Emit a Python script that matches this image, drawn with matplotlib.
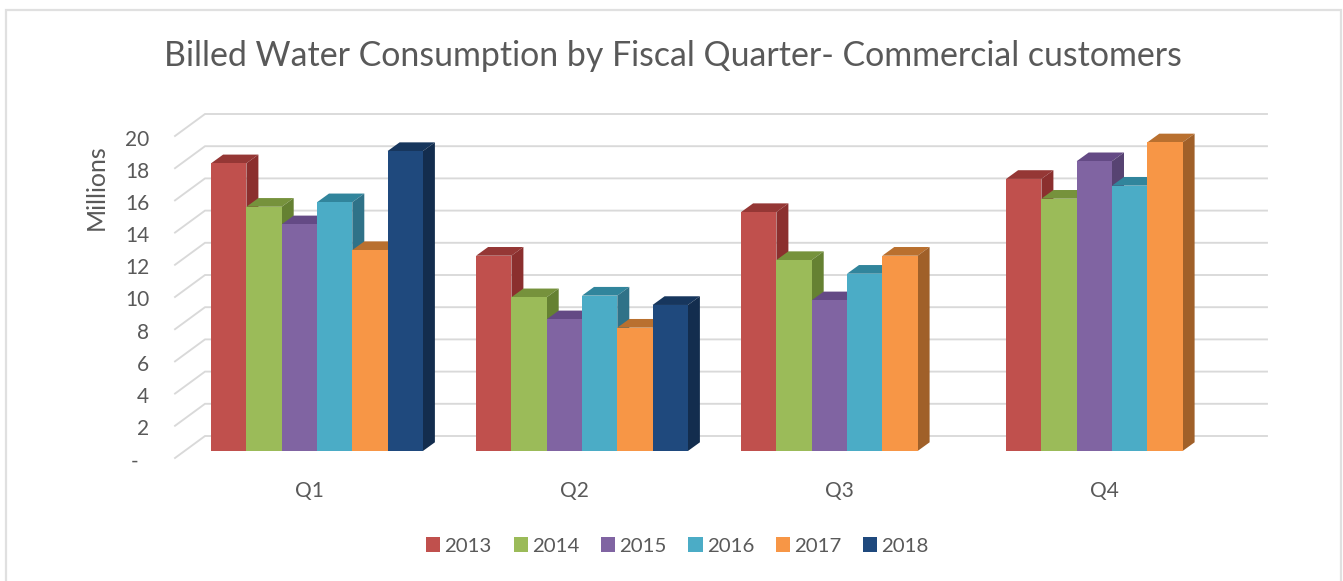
import matplotlib
matplotlib.use('Agg')
import numpy as np
import matplotlib.pyplot as plt
from matplotlib.lines import Line2D
from matplotlib.patches import Patch, Polygon

quarters = ['Q1', 'Q2', 'Q3', 'Q4']
years = ['2013', '2014', '2015', '2016', '2017', '2018']

# values in millions, 2018 stops after Q2
v2013 = [17.87, 12.13, 14.84, 16.90]
v2014 = [15.17, 9.55, 11.86, 15.67]
v2015 = [14.08, 8.18, 9.36, 18.00]
v2016 = [15.45, 9.65, 11.01, 16.48]
v2017 = [12.48, 7.66, 12.13, 19.17]
v2018 = [18.63, 9.07]

y_ticks = [0, 2, 4, 6, 8, 10, 12, 14, 16, 18, 20]
y_labels = ['-  ', '2', '4', '6', '8', '10', '12', '14', '16', '18', '20']

front = ['#C0504D', '#9BBB59', '#8064A2', '#4BACC6', '#F79646', '#1F497D']
top = ['#953735', '#76923C', '#644A85', '#31859C', '#B9702F', '#17365D']
side = ['#8B2F2E', '#658132', '#574372', '#2F7288', '#A06029', '#132D4E']

W, H = 1343, 581
GREY = '#595959'
GRID = '#D9D9D9'

# pixel geometry of the fake 3d box
PX_BAND = 265.0
PX_Y = 16.1
X0_PX = 317.0
Y0_PX = 451.0
FRONT_PX = 458
AX_L, AX_R, AX_T, AX_B = 175, 1267, 113, 464

plt.rcParams['font.family'] = ['Lato', 'DejaVu Sans']

fig = plt.figure(figsize=(W / 100, H / 100), dpi=100)
ax = fig.add_axes([AX_L / W, 1 - AX_B / H, (AX_R - AX_L) / W, (AX_B - AX_T) / H])
xlim = ((AX_L - X0_PX) / PX_BAND, (AX_R - X0_PX) / PX_BAND)
ylim = ((Y0_PX - AX_B) / PX_Y, (Y0_PX - AX_T) / PX_Y)
for s in ax.spines.values():
    s.set_visible(False)

bar_w = 35.3 / PX_BAND
dx = 12 / PX_BAND
dy = 8.7 / PX_Y
front_off = (Y0_PX - FRONT_PX) / PX_Y
wall_dx = 30 / PX_BAND
wall_dy = 22 / PX_Y
label_off = 1.5 / PX_Y

# walls: diagonal floor/side lines plus the horizontal gridlines
for t in y_ticks:
    yf = t + front_off
    ax.plot([xlim[0], xlim[0] + wall_dx, xlim[1]],
            [yf, yf + wall_dy, yf + wall_dy], color=GRID, lw=1.35, zorder=1,
            clip_on=False, solid_joinstyle='miter')

series = [v2013, v2014, v2015, v2016, v2017, v2018]
order = 2
for j, vals in enumerate(series):
    for i, val in enumerate(vals):
        left = i + (j - 3) * bar_w
        right = left + bar_w
        ax.add_patch(Polygon([(left, val), (left + dx, val + dy),
                              (right + dx, val + dy), (right, val)],
                             fc=top[j], ec='none', zorder=order))
        ax.add_patch(Polygon([(right, 0), (right + dx, dy),
                              (right + dx, val + dy), (right, val)],
                             fc=side[j], ec='none', zorder=order))
        ax.bar(left, val, width=bar_w, align='edge', color=front[j], zorder=order + 1)
    order += 2

# set the limits after the ticks, ticks near the edge would widen them
ax.set_yticks([t + front_off - label_off for t in y_ticks])
ax.set_yticklabels(y_labels)
ax.set_xticks([i - 8 / PX_BAND for i in range(len(quarters))])
ax.set_xticklabels(quarters)
ax.set_xlim(xlim)
ax.set_ylim(ylim)
ax.tick_params(axis='y', length=0, pad=18.5, labelsize=15, labelcolor=GREY)
ax.tick_params(axis='x', length=0, pad=12.2, labelsize=15, labelcolor=GREY)
ax.grid(False)

fig.text(673 / W, 1 - 56 / H, 'Billed Water Consumption by Fiscal Quarter- Commercial customers',
         ha='center', va='center', fontsize=24.4, color=GREY)
fig.text(96 / W, 1 - 187 / H, 'Millions', rotation=90, ha='center', va='center',
         fontsize=18, color=GREY)

handles = [Patch(fc=c, ec='none', label=y) for c, y in zip(front, years)]
fig.legend(handles=handles, loc='center', bbox_to_anchor=(677.5 / W, 1 - 546 / H), ncol=6,
           frameon=False, fontsize=14.7, labelcolor=GREY, handlelength=0.69, handleheight=0.7,
           handletextpad=0.2, columnspacing=1.07, borderpad=0)

# frame of the pasted chart, open at the bottom
fig.add_artist(Line2D([5.5 / W, 5.5 / W, 1340.5 / W, 1340.5 / W],
                      [0, 1 - 9.5 / H, 1 - 9.5 / H, 0], color='#E0E0E0', lw=1.6,
                      solid_joinstyle='miter'))

fig.savefig('out.png', dpi=100)
